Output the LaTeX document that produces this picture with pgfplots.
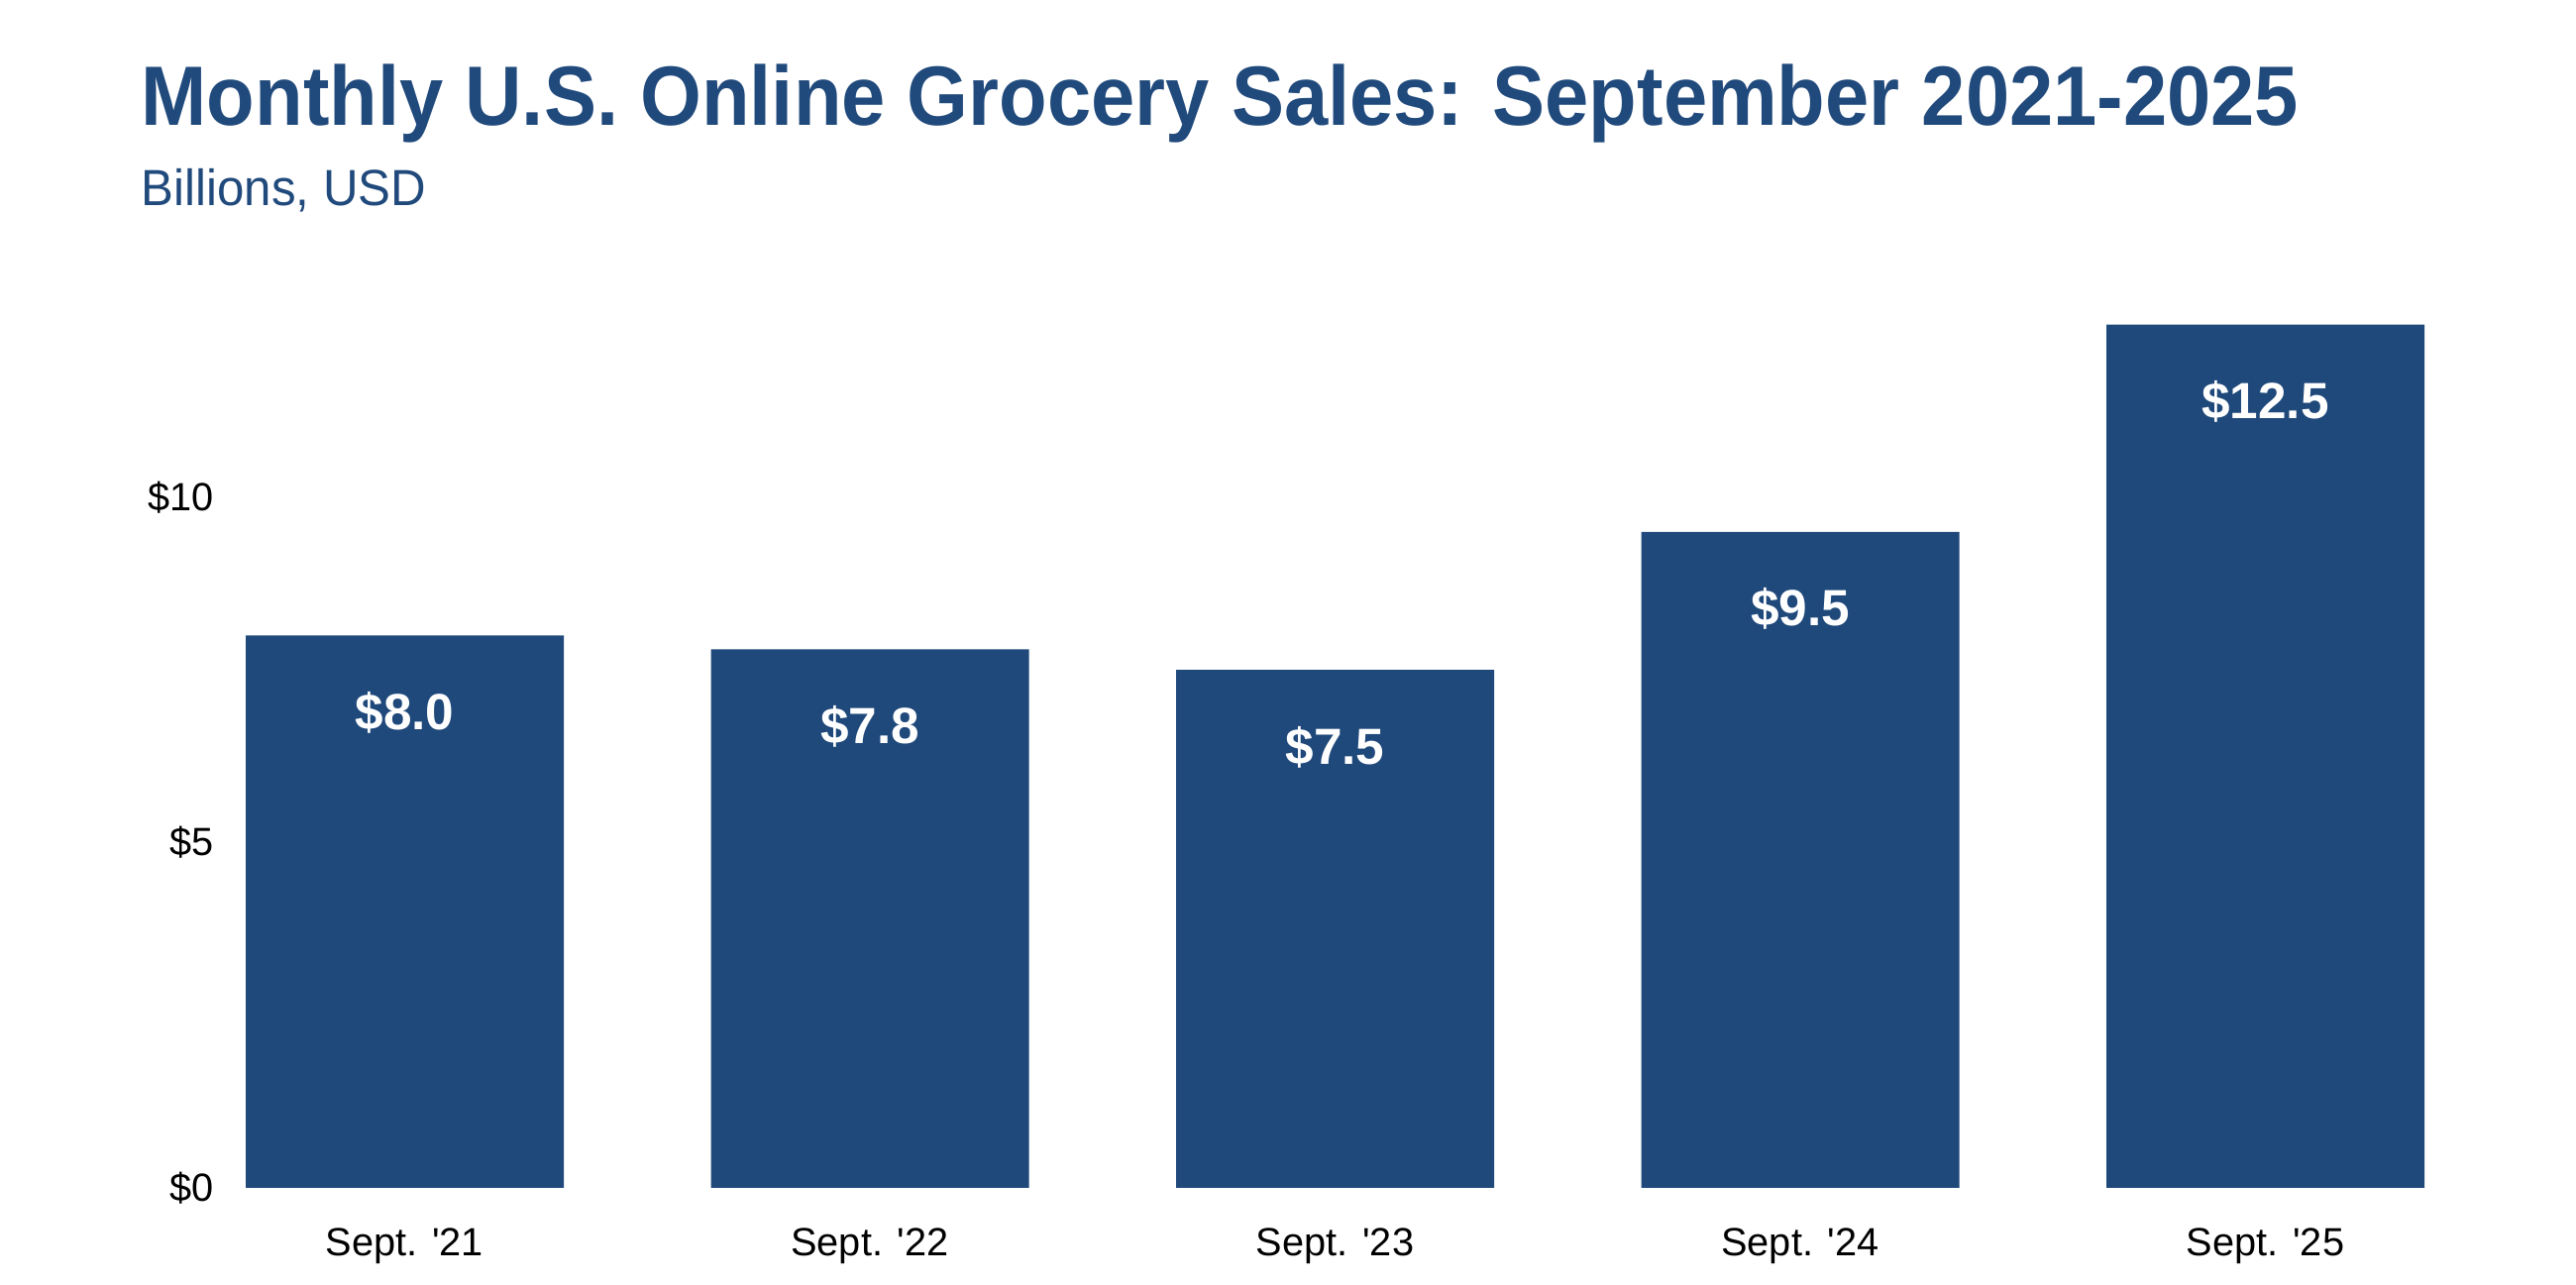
\documentclass[border=0pt]{standalone}
\usepackage{fontspec}
\setmainfont{Liberation Sans}
\usepackage{graphicx}
\usepackage{pgfplots}
\pgfplotsset{compat=1.18}
\definecolor{barblue}{RGB}{32,73,123}
\definecolor{titleblue}{RGB}{33,74,124}
\begin{document}
\begin{tikzpicture}
\useasboundingbox (0,0) rectangle (26cm,12.97cm);
\node[anchor=base west, inner sep=0, text=titleblue, font=\fontsize{24.2}{28}\selectfont\bfseries] at (1.42cm,11.70cm) {\scalebox{0.935}[1]{Monthly U.S. Online Grocery Sales: September 2021-2025}};
\node[anchor=base west, inner sep=0, text=titleblue, font=\fontsize{14.6}{17}\selectfont] at (1.42cm,10.89cm) {\scalebox{0.96}[1]{Billions, USD}};
\begin{axis}[
  at={(1.7375cm,0.98cm)}, anchor=south west,
  scale only axis,
  width=23.475cm, height=9.061cm,
  xmin=-0.5, xmax=4.5, ymin=0, ymax=13,
  ybar, bar width=3.21cm,
  axis line style={draw=none},
  tick style={draw=none},
  xtick={0,1,2,3,4},
  xticklabels={Sept. \textquotesingle21, Sept. \textquotesingle22, Sept. \textquotesingle23, Sept. \textquotesingle24, Sept. \textquotesingle25},
  ytick={0,5,10},
  yticklabels={\$0,\$5,\$10},
  /pgf/number format/assume math mode=true,
  tick label style={font=\fontsize{11.3}{13}\selectfont, text=black},
  xticklabel style={anchor=base, inner sep=0, yshift=-0.54cm},
  yticklabel style={anchor=east, inner sep=0, xshift=0.43cm},
  nodes near coords={\$\pgfmathprintnumber[fixed,fixed zerofill,precision=1]{\pgfplotspointmeta}},
  nodes near coords style={anchor=base, inner sep=0, yshift=-0.95cm, text=white, font=\fontsize{14.6}{17}\selectfont\bfseries},
  clip=false,
]
\addplot[fill=barblue, draw=none] coordinates {(0,8.0) (1,7.8) (2,7.5) (3,9.5) (4,12.5)};
\end{axis}
\end{tikzpicture}
\end{document}
